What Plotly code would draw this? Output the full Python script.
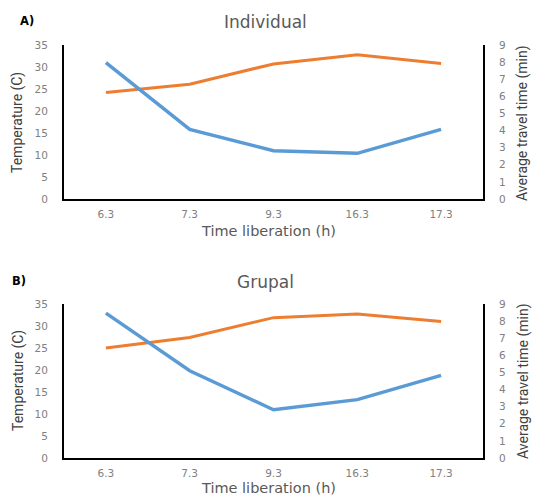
import plotly.graph_objects as go

# Data
categories = ["6.3", "7.3", "9.3", "16.3", "17.3"]
temp_individual = [24.2, 26.1, 30.7, 32.8, 30.8]
travel_individual = [7.97, 4.07, 2.82, 2.67, 4.07]
temp_grupal = [25.0, 27.4, 31.9, 32.7, 31.0]
travel_grupal = [8.47, 5.10, 2.82, 3.41, 4.83]
temp_ticks = [0, 5, 10, 15, 20, 25, 30, 35]
travel_ticks = [0, 1, 2, 3, 4, 5, 6, 7, 8, 9]

W, H = 533, 497
ORANGE = "#ED7D31"
BLUE = "#5B9BD5"
GRAY = "#595959"

def px(x):
    return x / W

def py(y):
    return 1 - y / H

fig = go.Figure()
fig.add_trace(go.Scatter(x=categories, y=temp_individual, mode="lines",
                         line=dict(color=ORANGE, width=3), xaxis="x", yaxis="y"))
fig.add_trace(go.Scatter(x=categories, y=travel_individual, mode="lines",
                         line=dict(color=BLUE, width=3.5), xaxis="x", yaxis="y2"))
fig.add_trace(go.Scatter(x=categories, y=temp_grupal, mode="lines",
                         line=dict(color=ORANGE, width=3), xaxis="x2", yaxis="y3"))
fig.add_trace(go.Scatter(x=categories, y=travel_grupal, mode="lines",
                         line=dict(color=BLUE, width=3.5), xaxis="x2", yaxis="y4"))

xdom = [px(64), px(483)]
ydomA = [py(199), py(45)]
ydomB = [py(458), py(304)]

tickfont = dict(family="DejaVu Sans", size=10.5, color="#808080")

xcommon = dict(domain=xdom, type="category", range=[-0.5, 4.5], automargin=False,
               showline=True, linecolor="black", linewidth=2,
               showgrid=False, zeroline=False, tickfont=tickfont,
               ticks="outside", ticklen=4, tickcolor="rgba(0,0,0,0)")
ycommon = dict(automargin=False, showline=True, linecolor="black", linewidth=2,
               showgrid=False, zeroline=False, tickfont=tickfont,
               ticks="outside", ticklen=12, tickcolor="rgba(0,0,0,0)")

fig.update_layout(
    template="none",
    width=W, height=H,
    margin=dict(l=0, r=0, t=0, b=0, autoexpand=False),
    paper_bgcolor="white", plot_bgcolor="white",
    showlegend=False,
    xaxis=dict(anchor="y", **xcommon),
    xaxis2=dict(anchor="y3", **xcommon),
    yaxis=dict(ycommon, domain=ydomA, anchor="x", range=[0, 35], tickvals=temp_ticks),
    yaxis2=dict(ycommon, domain=ydomA, anchor="x", overlaying="y", side="right",
                range=[0, 9], tickvals=travel_ticks),
    yaxis3=dict(ycommon, domain=ydomB, anchor="x2", range=[0, 35], tickvals=temp_ticks),
    yaxis4=dict(ycommon, domain=ydomB, anchor="x2", overlaying="y3", side="right",
                range=[0, 9], tickvals=travel_ticks),
)

def ann(text, x, y, size, family="DejaVu Sans", color=GRAY, angle=0):
    return dict(text=text, x=px(x), y=py(y), xref="paper", yref="paper",
                xanchor="center", yanchor="middle", showarrow=False, textangle=angle,
                font=dict(family=family, size=size, color=color))

annotations = []
for (label, lx, title, ytitle, ymid, yxt) in [("A)", 27, "Individual", 22, 123, 231),
                                               ("B)", 19, "Grupal", 282, 381, 488)]:
    annotations.append(ann("<b>" + label + "</b>", lx, ytitle - 1, 11.5, color="black"))
    annotations.append(ann(title, 265, ytitle, 17))
    annotations.append(ann("Temperature (C)", 18, ymid, 14, family="Roboto",
                           color="#404040", angle=-90))
    annotations.append(ann("Average travel time (min)", 523, ymid, 14, family="Roboto",
                           color="#404040", angle=-90))
    annotations.append(ann("Time liberation (h)", 268, yxt, 14.5))
fig.update_layout(annotations=annotations)

fig.write_html(
    "out.html",
    config={"displayModeBar": False},
    post_script="document.body.style.margin='0';document.body.style.overflow='hidden';",
)
